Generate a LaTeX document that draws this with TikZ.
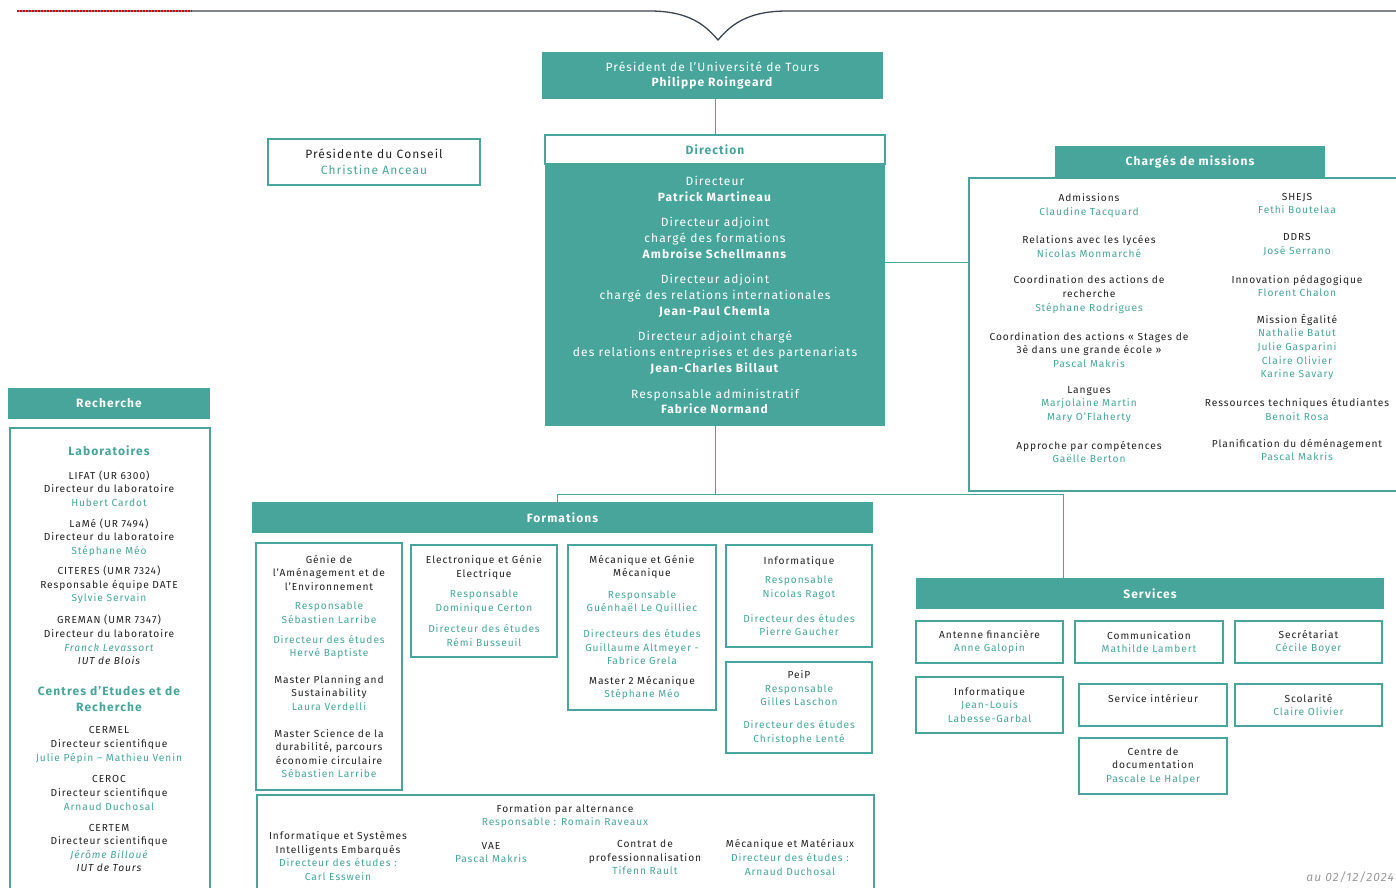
\documentclass[tikz,border=0pt]{standalone}
\usepackage{fontspec}
\setmainfont{Fira Sans}[LetterSpace=9]
\definecolor{tours}{HTML}{47A59B}
\definecolor{ink}{HTML}{222222}
\definecolor{rulegrey}{HTML}{3B4650}
\newcommand{\nm}[1]{\textcolor{tours}{#1}}
\newcommand{\fsm}{\fontsize{10.2}{13.6}\selectfont}
\newcommand{\fmd}{\fontsize{12}{15.7}\selectfont}

\begin{document}
\begin{tikzpicture}[x=1pt,y=-1pt,head node/.style={fill=tours,text=white,font=\fmd\bfseries,minimum height=31pt,inner sep=0pt}, box node/.style={draw=tours,line width=1.6pt,align=center,inner sep=0pt,font=\fsm,text=ink}, text node/.style={align=center,inner sep=0pt,font=\fsm,text=ink}, link/.style={draw=tours,line width=0.9pt}]

  \useasboundingbox (0,0) rectangle (1396,887);
  \clip (0,0) rectangle (1396,887);

  % top rule
  \draw[rulegrey, line width=1.3pt] (17,11) -- (650,11) .. controls (690,11) and (706,26) .. (718,40) .. controls (730,26) and (746,11) .. (787,11) -- (1396,11);
  \draw[red!80!black, line width=1.3pt, dash pattern=on 2pt off 1pt] (17,11) -- (192,11);

  % presidence
  \node[head node, minimum width=341pt, minimum height=47pt, align=center, font=\fmd] (pres) at (712.5,75.5) {Président de l’Université de Tours\\\textbf{Philippe Roingeard}};
  \node[box node, minimum width=212pt, minimum height=46pt, font=\fmd] (conseil) at (374,162) {Présidente du Conseil\\\nm{Christine Anceau}};

  % direction
  \node[box node, fill=white, minimum width=340pt, minimum height=29pt, font=\fmd\bfseries, text=tours] (dirhead) at (715,149.5) {Direction};
  \node[head node, minimum width=340pt, minimum height=262pt, align=center, font=\fmd] (dirbody) at (715,295) {Directeur\\\textbf{Patrick Martineau}\\[10pt]
    Directeur adjoint\\chargé des formations\\\textbf{Ambroise Schellmanns}\\[10pt]
    Directeur adjoint\\chargé des relations internationales\\\textbf{Jean-Paul Chemla}\\[10pt]
    Directeur adjoint chargé\\des relations entreprises et des partenariats\\\textbf{Jean-Charles Billaut}\\[10pt]
    Responsable administratif\\\textbf{Fabrice Normand}};
  \draw[link] (pres.south -| dirhead.north) -- (dirhead.north);

  % charges de missions
  \node[head node, minimum width=270pt] (chhead) at (1190,161.5) {Chargés de missions};
  \node[box node, minimum width=442pt, minimum height=313pt, anchor=north west] (chbox) at (968,177) {};
  \coordinate (chjoin) at (968,262);
  \draw[link] (dirbody.east |- chjoin) -- (chjoin);

  \node[text node] (adm) at (1089,205.5) {Admissions\\\nm{Claudine Tacquard}};
  \node[text node] (lycees) at (1089,246.5) {Relations avec les lycées\\\nm{Nicolas Monmarché}};
  \node[text node] (coordrech) at (1089,294.5) {Coordination des actions de\\recherche\\\nm{Stéphane Rodrigues}};
  \node[text node] (stages) at (1089,350) {Coordination des actions « Stages de\\3è dans une grande école »\\\nm{Pascal Makris}};
  \node[text node] (langues) at (1089,404.5) {Langues\\\nm{Marjolaine Martin}\\\nm{Mary O’Flaherty}};
  \node[text node] (apc) at (1089,452) {Approche par compétences\\\nm{Gaëlle Berton}};

  \node[text node] (shejs) at (1297,203.5) {SHEJS\\\nm{Fethi Boutelaa}};
  \node[text node] (ddrs) at (1297,244.5) {DDRS\\\nm{José Serrano}};
  \node[text node] (innov) at (1297,286) {Innovation pédagogique\\\nm{Florent Chalon}};
  \node[text node] (egalite) at (1297,347) {Mission Égalité\\\nm{Nathalie Batut}\\\nm{Julie Gasparini}\\\nm{Claire Olivier}\\\nm{Karine Savary}};
  \node[text node] (rte) at (1297,409.5) {Ressources techniques étudiantes\\\nm{Benoit Rosa}};
  \node[text node] (demen) at (1297,450) {Planification du déménagement\\\nm{Pascal Makris}};

  % recherche
  \node[head node, minimum width=202pt] (rechead) at (109,403.5) {Recherche};
  \node[box node, minimum width=200pt, minimum height=480pt, anchor=north west] (recbox) at (9,427) {};
  \node[text node, font=\fmd\bfseries, text=tours] (labos) at (109,451) {Laboratoires};
  \node[text node] (lifat) at (109,488.5) {LIFAT (UR 6300)\\Directeur du laboratoire\\\nm{Hubert Cardot}};
  \node[text node] (lame) at (109,537.5) {LaMé (UR 7494)\\Directeur du laboratoire\\\nm{Stéphane Méo}};
  \node[text node] (citeres) at (109,585) {CITERES (UMR 7324)\\Responsable équipe DATE\\\nm{Sylvie Servain}};
  \node[text node] (greman) at (109,640) {GREMAN (UMR 7347)\\Directeur du laboratoire\\\nm{\itshape Franck Levassort}\\\itshape IUT de Blois};
  \node[text node, font=\fmd\bfseries, text=tours] (centres) at (109,699) {Centres d’Etudes et de\\Recherche};
  \node[text node] (cermel) at (109,745) {CERMEL\\Directeur scientifique\\\nm{Julie Pépin – Mathieu Venin}};
  \node[text node] (ceroc) at (109,793) {CEROC\\Directeur scientifique\\\nm{Arnaud Duchosal}};
  \node[text node] (certem) at (109,848) {CERTEM\\Directeur scientifique\\\nm{\itshape Jérôme Billoué}\\\itshape IUT de Tours};

  % formations
  \node[head node, minimum width=621pt] (forhead) at (562.5,517.5) {Formations};
  \node[head node, minimum width=468pt] (serhead) at (1150,593.5) {Services};
  \coordinate (forjoin) at (557,494);
  \coordinate (serjoin) at (1063,494);
  \draw[link] (dirbody.south) -- (dirbody.south |- forjoin);
  \draw[link] (forjoin) -- (serjoin);
  \draw[link] (forjoin) -- (forjoin |- forhead.north);
  \draw[link] (serjoin) -- (serjoin |- serhead.north);

  \node[box node, minimum width=146pt, minimum height=247pt] (gae) at (329,666.5) {Génie de\\l’Aménagement et de\\l’Environnement\\[6pt]
    \nm{Responsable}\\\nm{Sébastien Larribe}\\[6pt]
    \nm{Directeur des études}\\\nm{Hervé Baptiste}\\[13pt]
    Master Planning and\\Sustainability\\\nm{Laura Verdelli}\\[13pt]
    Master Science de la\\durabilité, parcours\\économie circulaire\\\nm{Sébastien Larribe}};
  \node[box node, minimum width=146pt, minimum height=112pt] (ege) at (484,601) {Electronique et Génie\\Electrique\\[7pt]
    \nm{Responsable}\\\nm{Dominique Certon}\\[8pt]
    \nm{Directeur des études}\\\nm{Rémi Busseuil}};
  \node[box node, minimum width=148pt, minimum height=165pt] (mgm) at (642,627.5) {Mécanique et Génie\\Mécanique\\[8pt]
    \nm{Responsable}\\\nm{Guénhaël Le Quilliec}\\[12pt]
    \nm{Directeurs des études}\\\nm{Guillaume Altmeyer -}\\\nm{Fabrice Grela}\\[6pt]
    Master 2 Mécanique\\\nm{Stéphane Méo}};
  \node[box node, minimum width=146pt, minimum height=102pt] (finfo) at (799,596) {Informatique\\[6pt]
    \nm{Responsable}\\\nm{Nicolas Ragot}\\[11pt]
    \nm{Directeur des études}\\\nm{Pierre Gaucher}};
  \node[box node, minimum width=146pt, minimum height=91pt] (peip) at (799,707.5) {PeiP\\
    \nm{Responsable}\\\nm{Gilles Laschon}\\[9pt]
    \nm{Directeur des études}\\\nm{Christophe Lenté}};

  \node[box node, minimum width=617pt, minimum height=110pt, anchor=north west] (alt) at (256,794) {};
  \node[text node] (altresp) at (565,816) {Formation par alternance\\\nm{Responsable : Romain Raveaux}};
  \node[text node] (isie) at (338,856) {Informatique et Systèmes\\Intelligents Embarqués\\\nm{Directeur des études :}\\\nm{Carl Esswein}};
  \node[text node] (vae) at (491,852.5) {VAE\\\nm{Pascal Makris}};
  \node[text node] (contrat) at (645,857.5) {Contrat de\\professionnalisation\\\nm{Tifenn Rault}};
  \node[text node] (mecamat) at (790,857.5) {Mécanique et Matériaux\\\nm{Directeur des études :}\\\nm{Arnaud Duchosal}};

  % services
  \node[box node, minimum width=147pt, minimum height=42pt] (antenne) at (989.5,642) {Antenne financière\\\nm{Anne Galopin}};
  \node[box node, minimum width=148pt, minimum height=42pt] (comm) at (1149,642) {Communication\\\nm{Mathilde Lambert}};
  \node[box node, minimum width=147pt, minimum height=42pt] (secr) at (1308.5,642) {Secrétariat\\\nm{Cécile Boyer}};
  \node[box node, minimum width=147pt, minimum height=56pt] (sinfo) at (989.5,705) {Informatique\\\nm{Jean-Louis}\\\nm{Labesse-Garbal}};
  \node[box node, minimum width=148pt, minimum height=42pt] (interieur) at (1153,705) {Service intérieur\\~};
  \node[box node, minimum width=147pt, minimum height=42pt] (scol) at (1308.5,705) {Scolarité\\\nm{Claire Olivier}};
  \node[box node, minimum width=148pt, minimum height=56pt] (docu) at (1153,766) {Centre de\\documentation\\\nm{Pascale Le Halper}};

  \node[anchor=east, inner sep=0pt, font=\fontsize{12}{14}\selectfont\itshape, text=gray!80] (date) at (1394,877) {au 02/12/2024};
\end{tikzpicture}
\end{document}
